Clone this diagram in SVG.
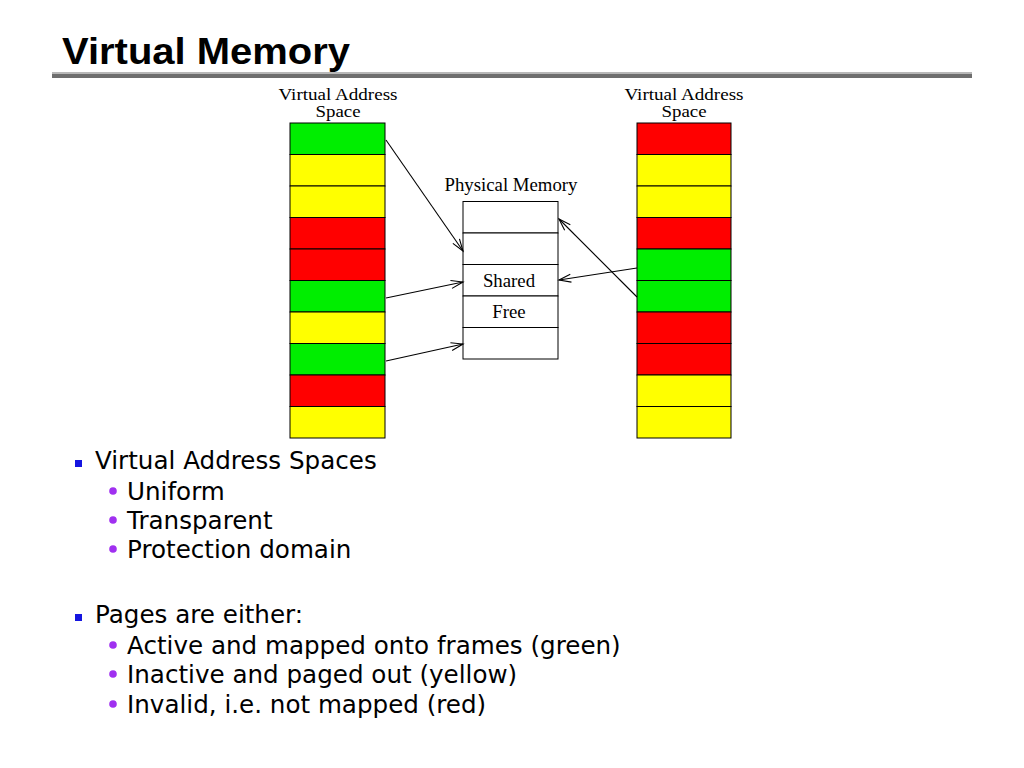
<svg xmlns="http://www.w3.org/2000/svg" width="1024" height="768" viewBox="0 0 1024 768">
<defs>
<style>
.g{fill:#00ee00}.y{fill:#ffff00}.r{fill:#ff0000}.w{fill:#ffffff}
.cell{stroke:#000;stroke-width:1}
.lbl{font-family:"Liberation Serif",serif;font-size:18.8px;fill:#000;text-anchor:middle}
.hd{font-family:"Liberation Serif",serif;font-size:16px;fill:#000;text-anchor:middle}
.b1{font-family:"DejaVu Sans",sans-serif;font-size:24.6px;fill:#000}
.conn{stroke:#000;stroke-width:1.1;fill:none}
</style>
<marker id="ah" markerUnits="userSpaceOnUse" markerWidth="16" markerHeight="12" refX="13" refY="5" orient="auto">
<path d="M1,1 L13,5 L1,9" fill="none" stroke="#000" stroke-width="1.1"/>
</marker>
</defs>
<rect width="1024" height="768" fill="#fff"/>
<g id="title">
<text x="62" y="64" font-family="Liberation Sans,Arial,sans-serif" font-weight="bold" font-size="36" textLength="288" lengthAdjust="spacingAndGlyphs">Virtual Memory</text>
<rect x="52" y="72" width="920" height="2" fill="#b8b8b8"/>
<rect x="52" y="74" width="920" height="4" fill="#6e6e6e"/>
</g>
<g id="vas-left">
<text class="hd" x="338" y="100" textLength="119" lengthAdjust="spacingAndGlyphs">Virtual Address</text>
<text class="hd" x="338" y="117" textLength="45" lengthAdjust="spacingAndGlyphs">Space</text>
<rect class="cell g" x="290" y="123" width="95" height="31.5"/>
<rect class="cell y" x="290" y="154.5" width="95" height="31.5"/>
<rect class="cell y" x="290" y="186" width="95" height="31.5"/>
<rect class="cell r" x="290" y="217.5" width="95" height="31.5"/>
<rect class="cell r" x="290" y="249" width="95" height="31.5"/>
<rect class="cell g" x="290" y="280.5" width="95" height="31.5"/>
<rect class="cell y" x="290" y="312" width="95" height="31.5"/>
<rect class="cell g" x="290" y="343.5" width="95" height="31.5"/>
<rect class="cell r" x="290" y="375" width="95" height="31.5"/>
<rect class="cell y" x="290" y="406.5" width="95" height="31.5"/>
</g>
<g id="vas-right">
<text class="hd" x="684" y="100" textLength="119" lengthAdjust="spacingAndGlyphs">Virtual Address</text>
<text class="hd" x="684" y="117" textLength="45" lengthAdjust="spacingAndGlyphs">Space</text>
<rect class="cell r" x="637" y="123" width="94" height="31.5"/>
<rect class="cell y" x="637" y="154.5" width="94" height="31.5"/>
<rect class="cell y" x="637" y="186" width="94" height="31.5"/>
<rect class="cell r" x="637" y="217.5" width="94" height="31.5"/>
<rect class="cell g" x="637" y="249" width="94" height="31.5"/>
<rect class="cell g" x="637" y="280.5" width="94" height="31.5"/>
<rect class="cell r" x="637" y="312" width="94" height="31.5"/>
<rect class="cell r" x="637" y="343.5" width="94" height="31.5"/>
<rect class="cell y" x="637" y="375" width="94" height="31.5"/>
<rect class="cell y" x="637" y="406.5" width="94" height="31.5"/>
</g>
<g id="physical-memory">
<text class="lbl" x="511" y="191">Physical Memory</text>
<rect class="cell w" x="463" y="201.5" width="95" height="31.5"/>
<rect class="cell w" x="463" y="233" width="95" height="31.5"/>
<rect class="cell w" x="463" y="264.5" width="95" height="31.5"/>
<rect class="cell w" x="463" y="296" width="95" height="31.5"/>
<rect class="cell w" x="463" y="327.5" width="95" height="31.5"/>
<text class="lbl" x="509" y="287">Shared</text>
<text class="lbl" x="509" y="318">Free</text>
</g>
<g id="connectors">
<line class="conn" x1="386" y1="140" x2="463" y2="251" marker-end="url(#ah)"/>
<line class="conn" x1="386" y1="298" x2="463" y2="282" marker-end="url(#ah)"/>
<line class="conn" x1="386" y1="361" x2="463" y2="344" marker-end="url(#ah)"/>
<line class="conn" x1="637" y1="268" x2="559" y2="280" marker-end="url(#ah)"/>
<line class="conn" x1="637" y1="297" x2="559" y2="219" marker-end="url(#ah)"/>
</g>
<g id="bullets">
<rect x="75" y="460" width="7" height="7" fill="#1515e0"/>
<text class="b1" x="95" y="469">Virtual Address Spaces</text>
<circle cx="113" cy="491" r="3.8" fill="#a030f0"/>
<text class="b1" x="127" y="500">Uniform</text>
<circle cx="113" cy="520" r="3.8" fill="#a030f0"/>
<text class="b1" x="127" y="529">Transparent</text>
<circle cx="113" cy="549" r="3.8" fill="#a030f0"/>
<text class="b1" x="127" y="558">Protection domain</text>
<rect x="75" y="614" width="7" height="7" fill="#1515e0"/>
<text class="b1" x="95" y="623">Pages are either:</text>
<circle cx="113" cy="645" r="3.8" fill="#a030f0"/>
<text class="b1" x="127" y="654">Active and mapped onto frames (green)</text>
<circle cx="113" cy="674" r="3.8" fill="#a030f0"/>
<text class="b1" x="127" y="683">Inactive and paged out (yellow)</text>
<circle cx="113" cy="704" r="3.8" fill="#a030f0"/>
<text class="b1" x="127" y="713">Invalid, i.e. not mapped (red)</text>
</g>
</svg>
